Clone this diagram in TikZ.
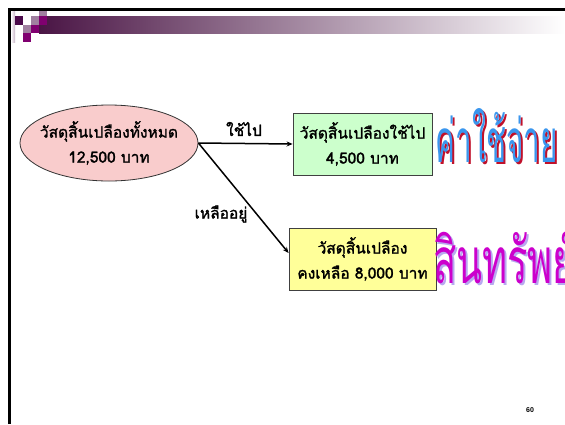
\documentclass[tikz,border=0pt]{standalone}
\usepackage{fontspec}
\setmainfont{Liberation Serif}
\newfontfamily\thai[Script=Thai]{Loma}
\newfontfamily\thaib[Script=Thai,FakeBold=1.6]{Loma}
\newfontfamily\arial{Liberation Sans}
\usetikzlibrary{arrows.meta,shapes.geometric}
\definecolor{pinkfill}{HTML}{F9CCCC}
\definecolor{greenfill}{HTML}{CCFFCC}
\definecolor{yellowfill}{HTML}{FFFF99}
\definecolor{darkpurp}{HTML}{4B0A4B}
\definecolor{mauve}{HTML}{A080A0}
\definecolor{purp}{HTML}{800070}
\definecolor{barstart}{HTML}{4A1545}
\definecolor{expblue}{HTML}{3A96EE}
\definecolor{expred}{HTML}{C0102A}
\definecolor{asset}{HTML}{CC00CC}
\definecolor{assetsh}{HTML}{B8A8F0}
\tikzset{
  txt/.style={font=\thaib\fontsize{15.5}{25}\selectfont, align=center},
  boxnode/.style={txt, draw=black!75, line width=0.8pt, inner sep=0pt},
  arr/.style={-{Stealth[length=6pt,width=5pt]}, line width=1.5pt},
  lbl/.style={font=\thaib\fontsize{15.5}{18}\selectfont, inner sep=0pt},
}
\begin{document}
\begin{tikzpicture}[x=1pt,y=-1pt]
\useasboundingbox (0,0) rectangle (565,424);
\fill[white] (0,0) rectangle (565,424);
% header bar
\shade[left color=barstart, right color=white] (39,16) rectangle (565,33);
\shade[left color=white, right color=mauve!60] (11,11) rectangle (15,42);
\fill[darkpurp] (15,16) rectangle (23,25);
\fill[mauve] (31,16) rectangle (39,25);
\fill[mauve] (39,11) rectangle (47,16);
\fill[purp] (39,16) rectangle (47,25);
\fill[mauve] (23,25) rectangle (31,33);
\fill[purp] (31,25) rectangle (39,33);
\fill[purp] (23,33) rectangle (31,42);
% frame
\draw[line width=3.3pt] (9.5,424) -- (9.5,9.5) -- (565,9.5);
% nodes
\node[ellipse, draw=black!80, line width=0.8pt, fill=pinkfill, minimum width=178pt, minimum height=76pt, inner sep=0pt] (total) at (109,143) {};
\node[txt, inner sep=0pt] (totaltxt) at (total.center) {วัสดุสิ้นเปลืองทั้งหมด\\12,500 บาท};
\node[boxnode, fill=greenfill, minimum width=139pt, minimum height=62pt] (used) at (362.5,144) {วัสดุสิ้นเปลืองใช้ไป\\4,500 บาท};
\node[boxnode, fill=yellowfill, minimum width=147pt, minimum height=62pt] (remain) at (362.5,259) {วัสดุสิ้นเปลือง\\คงเหลือ 8,000 บาท};
% connectors
\draw[arr] (total.east) -- (used.west);
\draw[arr] (total.east) -- ([yshift=6pt]remain.west);
\node[lbl] (lused) at (244,129) {ใช้ไป};
\node[lbl] (lremain) at (221,214) {เหลืออยู่};
% big words
\node[inner sep=0pt, anchor=north west, text=expred] (expsh) at (437.5,110.5) {\resizebox{122pt}{54pt}{\thai ค่าใช้จ่าย}};
\node[inner sep=0pt, anchor=north west, text=expblue] (exp) at (435.5,108.5) {\resizebox{122pt}{54pt}{\thai ค่าใช้จ่าย}};
\node[inner sep=0pt, anchor=north west, text=assetsh] (assh) at (435,229) {\resizebox{142pt}{56pt}{\thai สินทรัพย์}};
\node[inner sep=0pt, anchor=north west, text=asset] (as) at (433,227) {\resizebox{142pt}{56pt}{\thai สินทรัพย์}};
% page number
\node[font=\arial\bfseries\fontsize{7}{7}\selectfont, inner sep=0pt] (pg) at (530,410) {60};
\end{tikzpicture}
\end{document}
